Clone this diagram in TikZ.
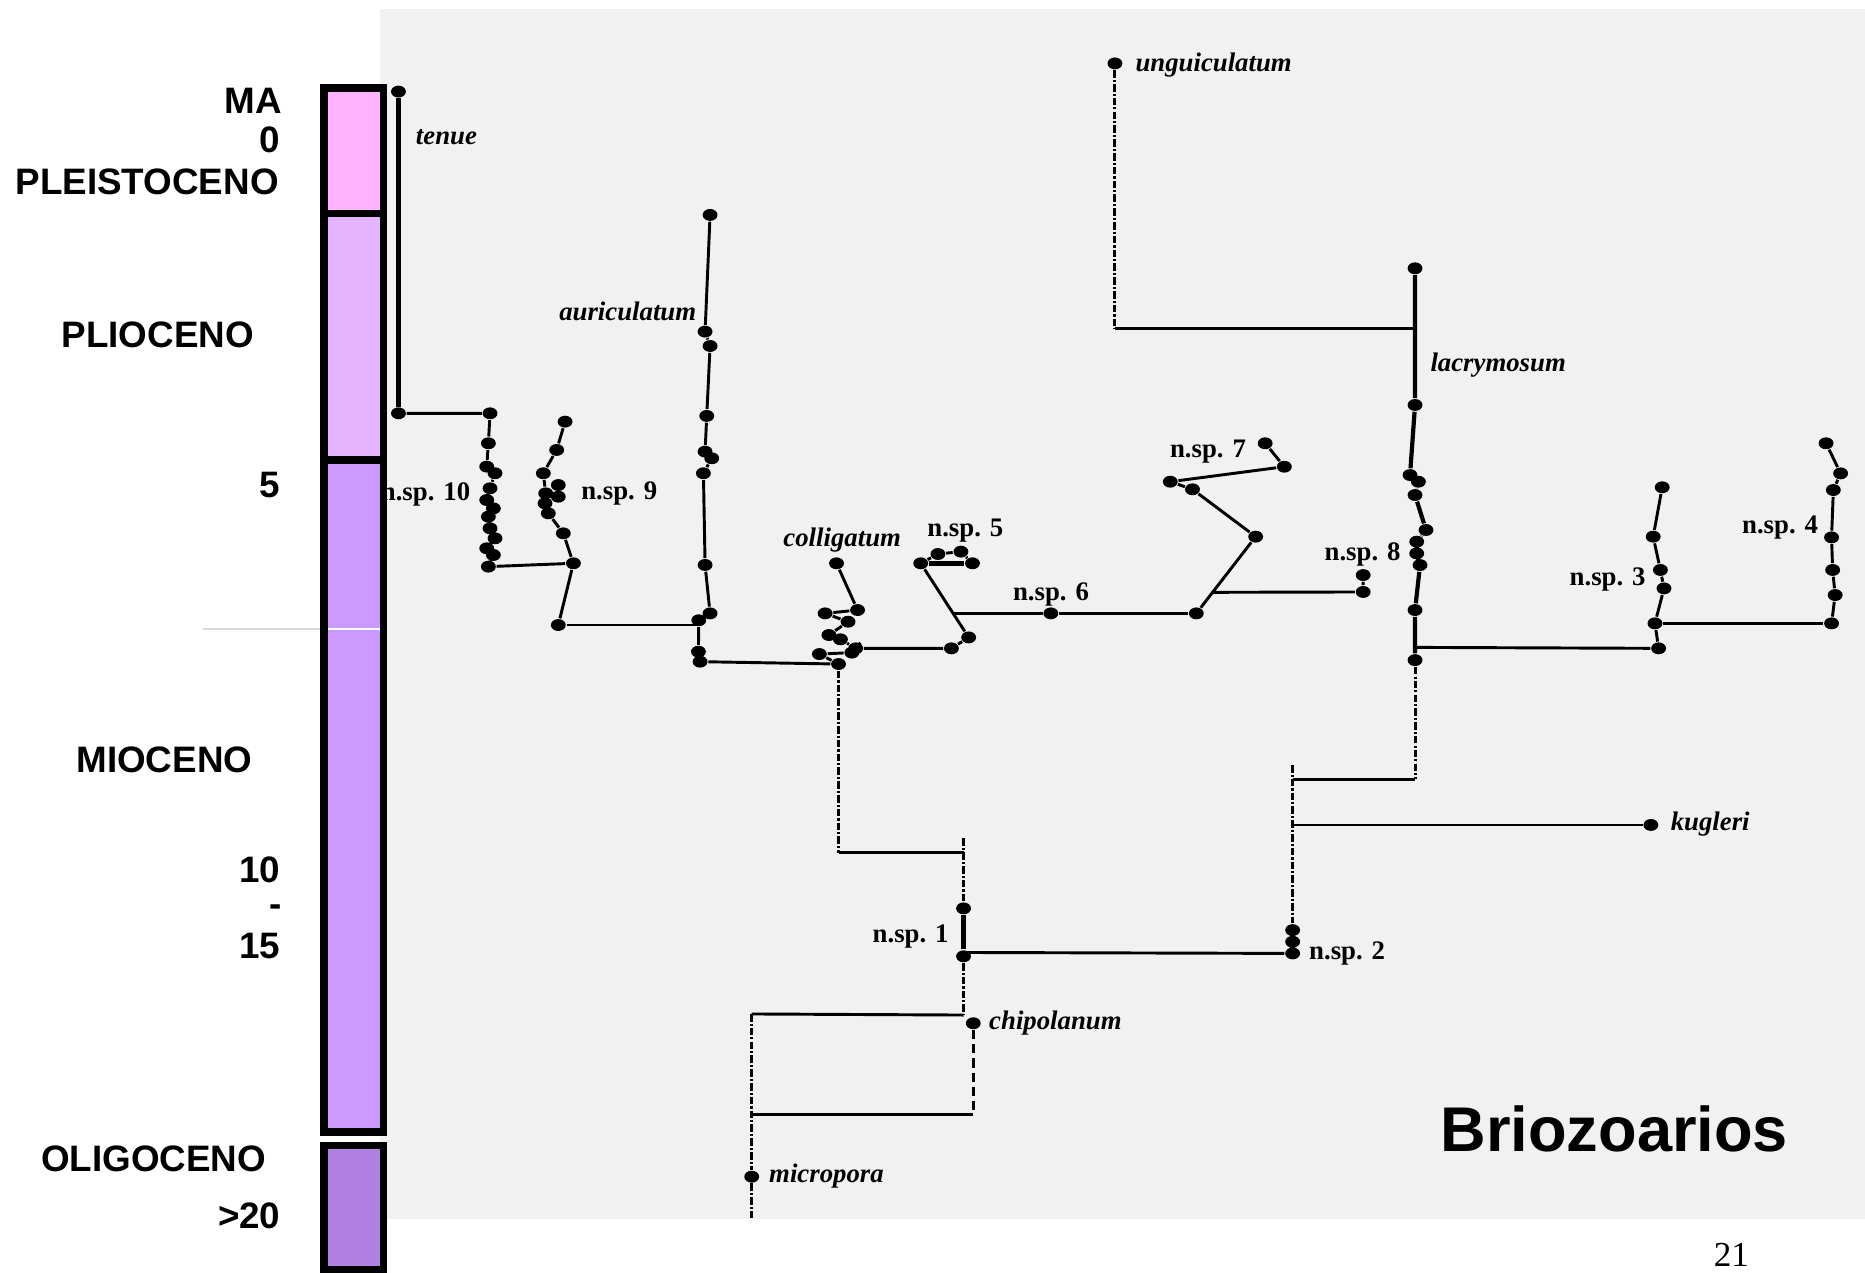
\documentclass[tikz,border=0pt]{standalone}
\usepackage{fontspec}
\setmainfont{Liberation Serif}
\setsansfont{Liberation Sans}
\usepackage{tikz}
\usetikzlibrary{shapes.geometric}
\definecolor{scan}{RGB}{241,241,241}
\definecolor{pleis}{RGB}{255,179,255}
\definecolor{plio}{RGB}{228,180,255}
\definecolor{mio}{RGB}{204,153,255}
\definecolor{oligo}{RGB}{176,127,226}

\begin{document}
\begin{tikzpicture}[x=0.01cm, y=-0.01cm]
        \tikzstyle{smp} = [ellipse, fill, inner sep=0pt, minimum width=0.125cm, minimum height=0.1cm]
        \tikzstyle{era} = [font=\sffamily\bfseries\fontsize{8.8}{10}\selectfont, inner sep=0pt]
        \tikzstyle{sp} = [font=\fontsize{6.4}{7}\selectfont\bfseries\itshape, inner sep=0pt, anchor=west]
        \tikzstyle{nsp} = [font=\fontsize{6.4}{7}\selectfont\bfseries, inner sep=0pt, anchor=west]
        \tikzstyle{br} = [line width=0.7pt]
        \tikzstyle{gap} = [line width=0.7pt, dash pattern=on 1.8pt off 0.5pt on 0.5pt off 0.5pt]
        \tikzstyle{brk} = [line width=0.8pt, dash pattern=on 2.2pt off 1.2pt]
        \tikzstyle{bar} = [draw, line width=0.063cm]
        \useasboundingbox (0,0) rectangle (1568,1070);
        \fill[scan] (319.5,7.8) rectangle (1568,1024.5);

        \node[smp] (te1) at (335,77) {};
        \node[smp] (te2) at (335,347.5) {};
        \node[sp] (tenue) at (349,115.4) {tenue};
        \draw[line width=1pt] (te1) -- (te2);

        \node[smp] (ten1) at (412,347.5) {};   \node[smp] (ten2) at (410.6,372.7) {};
        \node[smp] (ten3) at (409.2,392.3) {}; \node[smp] (ten4) at (416.2,397.9) {};
        \node[smp] (ten5) at (412,410.5) {};   \node[smp] (ten6) at (409.2,420.4) {};
        \node[smp] (ten7) at (414.8,427.4) {}; \node[smp] (ten8) at (410.6,434.4) {};
        \node[smp] (ten9) at (412,444.2) {};   \node[smp] (ten10) at (416.2,452.6) {};
        \node[smp] (ten11) at (409.2,461) {};  \node[smp] (ten12) at (414.8,466.6) {};
        \node[smp] (ten13) at (410.6,476.4) {};
        \node[nsp, anchor=east] (nsp10) at (396,416) {n.sp. 10};
        \draw[br] (te2) -- (ten1) -- (ten2) -- (ten3) -- (ten4) -- (ten5) -- (ten6) -- (ten7) -- (ten8) -- (ten9) -- (ten10) -- (ten11) -- (ten12) -- (ten13);

        \node[smp] (nin1) at (475.1,354.5) {}; \node[smp] (nin2) at (468,378.3) {};
        \node[smp] (nin3) at (456.8,397.9) {}; \node[smp] (nin4) at (469.4,407.8) {};
        \node[smp] (nin5) at (458.8,414.8) {}; \node[smp] (nin6) at (469.4,417.6) {};
        \node[smp] (nin7) at (458.2,423.2) {}; \node[smp] (nin8) at (461,431.6) {};
        \node[smp] (nin9) at (473.6,448.4) {}; \node[smp] (nin10) at (482.1,473.6) {};
        \node[smp] (nin11) at (469.4,525.5) {};
        \node[nsp] (nsp9) at (488,415) {n.sp. 9};
        \draw[br] (nin1) -- (nin2) -- (nin3) -- (nin5) -- (nin7) -- (nin8) -- (nin9) -- (nin10) -- (nin11);
        \draw[br] (ten13) -- (nin10);

        \node[smp] (au1) at (597,180.7) {};    \node[smp] (au2) at (592.8,278.8) {};
        \node[smp] (au3) at (597,290.9) {};    \node[smp] (au4) at (594.2,349.7) {};
        \node[smp] (au5) at (592.8,379.7) {};  \node[smp] (au6) at (598.4,385.3) {};
        \node[smp] (au7) at (591.4,397.9) {};  \node[smp] (au8) at (592.8,475) {};
        \node[smp] (au9) at (597,515.7) {};    \node[smp] (au10) at (587.5,521.5) {};
        \node[smp] (au11) at (587.2,547.9) {}; \node[smp] (au12) at (588.6,556.3) {};
        \coordinate (aj) at (587.4,525.5);
        \node[sp, anchor=east] (auriculatum) at (586,262) {auriculatum};
        \draw[br] (au1) -- (au2) -- (au3) -- (au4) -- (au5) -- (au6) -- (au7) -- (au8) -- (au9) -- (au10) -- (au11) -- (au12);
        \draw[br] (nin11) -- (aj);

        \node[smp] (co1) at (703.3,473.6) {};  \node[smp] (co2) at (721,512.9) {};
        \node[smp] (co3) at (693.7,515.7) {};  \node[smp] (co4) at (713,522.7) {};
        \node[smp] (co5) at (696.9,533.9) {};  \node[smp] (co6) at (706.6,537.5) {};
        \node[smp] (co7) at (719.4,545.1) {};  \node[smp] (co8) at (688.9,549.9) {};
        \node[smp] (co9) at (716.2,548.7) {};  \node[smp] (co10) at (705,558.3) {};
        \node[sp] (colligatum) at (658,454) {colligatum};
        \draw[br] (co1) -- (co2) -- (co3) -- (co4) -- (co5) -- (co6) -- (co7) -- (co9) -- (co8) -- (co10);
        \draw[br] (au12) -- (co10);

        \node[smp] (f1) at (799.9,545.1) {};   \node[smp] (f2) at (814.4,535.9) {};
        \node[smp] (f3) at (774.1,473.6) {};   \node[smp] (f4) at (788.6,465.8) {};
        \node[smp] (f5) at (807.9,463.8) {};   \node[smp] (f6) at (817.6,473.6) {};
        \node[nsp] (nsp5) at (779,446) {n.sp. 5};
        \draw[br] (co7) -- (f1) -- (f2) -- (f3) -- (f4) -- (f5) -- (f6);
        \draw[line width=1.2pt] (f3) -- (f6);

        \coordinate (s6a) at (801.3,515.7);
        \node[smp] (s1) at (883.5,515.7) {};
        \node[smp] (s2) at (1005.8,515.7) {};
        \node[nsp] (nsp6) at (851,500) {n.sp. 6};
        \draw[br] (s6a) -- (s1) -- (s2);

        \node[smp] (sv1) at (1055.7,451.2) {}; \node[smp] (sv2) at (1002.6,411.4) {};
        \node[smp] (sv3) at (983.9,405) {};    \node[smp] (sv4) at (1079.8,392.4) {};
        \node[smp] (sv5) at (1063.7,372.7) {};
        \node[nsp] (nsp7) at (983,380) {n.sp. 7};
        \draw[br] (s2) -- (sv1) -- (sv2) -- (sv3) -- (sv4) -- (sv5);

        \coordinate (e0) at (1019.5,498);
        \node[smp] (e1) at (1146.1,497.7) {};
        \node[smp] (e2) at (1146.1,483.5) {};
        \node[nsp] (nsp8) at (1113,466) {n.sp. 8};
        \draw[br] (e0) -- (e1) -- (e2);

        \node[smp] (un) at (937.4,53.3) {};
        \coordinate (uc) at (937.4,276.1);
        \coordinate (ul) at (1189.7,276.1);
        \node[sp] (unguiculatum) at (954,54.5) {unguiculatum};
        \draw[gap] (un) -- (uc);
        \draw[br] (uc) -- (ul);

        \node[smp] (la1) at (1189.7,225.6) {};  \node[smp] (la2) at (1189.7,340.5) {};
        \node[smp] (la3) at (1185.5,399.4) {};  \node[smp] (la4) at (1192.5,405) {};
        \node[smp] (la5) at (1189.7,416.2) {};  \node[smp] (la6) at (1198.9,445.6) {};
        \node[smp] (la7) at (1191.1,455.4) {};  \node[smp] (la8) at (1191.1,465.3) {};
        \node[smp] (la9) at (1193.9,475.1) {};  \node[smp] (la10) at (1189.7,512.9) {};
        \node[smp] (la11) at (1189.7,555) {};
        \coordinate (lj) at (1189.7,544.3);
        \node[sp] (lacrymosum) at (1202,307) {lacrymosum};
        \draw[line width=1pt] (la1) -- (la2) -- (la3) -- (la4) -- (la5) -- (la6) -- (la7) -- (la8) -- (la9) -- (la10) -- (la11);

        \node[smp] (th0) at (1394.5,545.1) {}; \node[smp] (th1) at (1391.4,524.1) {};
        \node[smp] (th2) at (1399,494.7) {};   \node[smp] (th3) at (1396,479.2) {};
        \node[smp] (th4) at (1389.9,451.2) {}; \node[smp] (th5) at (1397.5,409.7) {};
        \node[nsp] (nsp3) at (1319,487) {n.sp. 3};
        \draw[br] (lj) -- (th0);
        \draw[br] (th0) -- (th1) -- (th2) -- (th3) -- (th4) -- (th5);

        \node[smp] (fo1) at (1539.9,524.1) {}; \node[smp] (fo2) at (1542.9,500.3) {};
        \node[smp] (fo3) at (1540.8,479.2) {}; \node[smp] (fo4) at (1539.9,451.8) {};
        \node[smp] (fo5) at (1541.4,412) {};   \node[smp] (fo6) at (1547.5,398) {};
        \node[smp] (fo7) at (1535.3,372.7) {};
        \node[nsp] (nsp4) at (1464,443.6) {n.sp. 4};
        \draw[br] (th1) -- (fo1);
        \draw[br] (fo1) -- (fo2) -- (fo3) -- (fo4) -- (fo5) -- (fo6) -- (fo7);

        \coordinate (cd) at (705,716.9);
        \coordinate (ce) at (810.1,716.9);
        \coordinate (nt) at (810.1,704.9);
        \draw[gap] (co10) -- (cd);
        \draw[br] (cd) -- (ce);

        \node[smp] (n1) at (810.1,763.7) {};
        \node[smp] (n2) at (810.1,804) {};
        \coordinate (nh) at (810.1,800.8);
        \coordinate (nb) at (810.1,853.4);
        \coordinate (mc) at (632,852.5);
        \node[nsp] (nsp1) at (733,787.6) {n.sp. 1};
        \draw[gap] (nt) -- (n1);
        \draw[line width=1.2pt] (n1) -- (n2);
        \draw[gap] (n2) -- (nb);
        \draw[br] (nb) -- (mc);

        \node[smp] (t1) at (1086.8,782) {};
        \node[smp] (t2) at (1086.8,791.8) {};
        \node[smp] (t3) at (1086.8,801.6) {};
        \coordinate (tt) at (1086.8,643.2);
        \coordinate (tl) at (1086.8,655);
        \coordinate (tk) at (1086.8,693.6);
        \coordinate (lb) at (1189.7,655);
        \node[nsp] (nsp2) at (1100,801.6) {n.sp. 2};
        \draw[br] (nh) -- (t3);
        \draw[line width=1.2pt] (t1) -- (t2) -- (t3);
        \draw[gap] (tt) -- (t1);
        \draw[br] (tl) -- (lb);
        \draw[gap] (la11) -- (lb);

        \node[smp] (ku) at (1388,693.6) {};
        \node[sp] (kugleri) at (1404,693) {kugleri};
        \draw[br] (tk) -- (ku);

        \node[smp] (ch) at (818.3,860.3) {};
        \coordinate (cb) at (818.3,937.4);
        \coordinate (mb) at (632,937.4);
        \node[sp] (chipolanum) at (831,860) {chipolanum};
        \draw[brk] (ch) -- (cb);
        \draw[br] (cb) -- (mb);

        \node[smp] (mi) at (632,989.3) {};
        \coordinate (mz) at (632,1024.3);
        \node[sp] (micropora) at (646,989) {micropora};
        \draw[gap] (mc) -- (mi);
        \draw[gap] (mi) -- (mz);

        \draw[bar, fill=pleis] (272.3,73.8) rectangle (322.6,179.6);
        \draw[bar, fill=plio] (272.3,179.6) rectangle (322.6,386.7);
        \draw[bar, fill=mio] (272.3,386.7) rectangle (322.6,951.9);
        \draw[bar, fill=oligo] (272.3,963.2) rectangle (322.6,1067.5);
        \draw[black!15, line width=0.4pt] (171,529) -- (269,529);
        \draw[white, line width=0.4pt] (275.5,529) -- (319.5,529);

        \node[era, anchor=east] (ma) at (237.5,84.9) {MA};
        \node[era, anchor=east] (cero) at (236.5,117.7) {0};
        \node[era, anchor=east] (pleistoceno) at (235,152.7) {PLEISTOCENO};
        \node[era] (plioceno) at (132.7,281.6) {PLIOCENO};
        \node[era, anchor=east] (cinco) at (236.5,407.8) {5};
        \node[era] (mioceno) at (138.2,639) {MIOCENO};
        \node[era, anchor=east] (diez) at (236.5,731.5) {10};
        \node[era, anchor=east] (guion) at (237.5,765.7) {-};
        \node[era, anchor=east] (quince) at (236.5,795.4) {15};
        \node[era] (oligoceno) at (129.2,973.9) {OLIGOCENO};
        \node[era, anchor=east] (mayor) at (236.5,1022.4) {>20};

        \node[font=\sffamily\bfseries\fontsize{15.1}{18}\selectfont, inner sep=0pt] (titulo) at (1357.3,948.8) {Briozoarios};
        \node[font=\fontsize{8.4}{10}\selectfont, inner sep=0pt] (pagina) at (1455.7,1054.8) {21};
      \end{tikzpicture}
\end{document}
